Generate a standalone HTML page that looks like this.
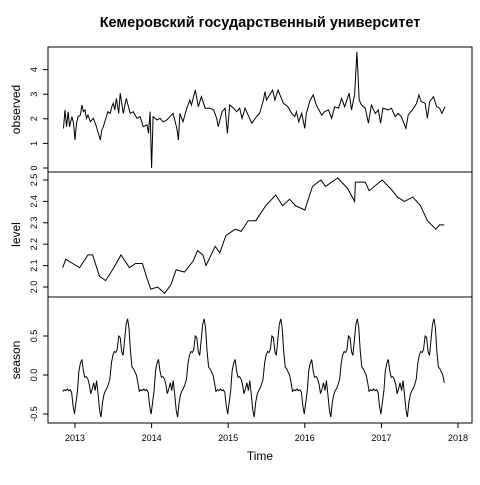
<!DOCTYPE html>
<html><head><meta charset="utf-8"><style>
body{margin:0;background:#fff}
svg text{font-family:"Liberation Sans",sans-serif;fill:#000}
</style></head><body>
<svg id="chart" width="480" height="480" viewBox="0 0 480 480" xmlns="http://www.w3.org/2000/svg">
<rect width="480" height="480" fill="#fff"/>
<text x="260" y="27" text-anchor="middle" font-size="14.5" font-weight="bold" style="font-family:'Liberation Sans','Noto Sans CJK SC',sans-serif">Кемеровский государственный университет</text>
<text x="260" y="460" text-anchor="middle" font-size="12">Time</text>
</svg>
<script>
const obsTimes=[2012.85,2012.87,2012.89,2012.91,2012.93,2012.96,2012.98,2013.00,2013.02,2013.04,2013.07,2013.09,2013.11,2013.13,2013.15,2013.17,2013.20,2013.24,2013.28,2013.33,2013.35,2013.37,2013.41,2013.43,2013.46,2013.48,2013.50,2013.52,2013.54,2013.57,2013.59,2013.61,2013.63,2013.67,2013.72,2013.76,2013.81,2013.85,2013.89,2013.94,2013.96,2013.98,2014.00,2014.02,2014.07,2014.11,2014.15,2014.20,2014.24,2014.28,2014.33,2014.35,2014.37,2014.41,2014.46,2014.50,2014.52,2014.57,2014.61,2014.65,2014.70,2014.76,2014.81,2014.85,2014.87,2014.92,2014.96,2014.99,2015.02,2015.07,2015.11,2015.15,2015.18,2015.22,2015.26,2015.31,2015.37,2015.41,2015.46,2015.48,2015.50,2015.54,2015.58,2015.61,2015.65,2015.72,2015.78,2015.83,2015.87,2015.89,2015.92,2015.96,2016.00,2016.02,2016.07,2016.11,2016.15,2016.22,2016.26,2016.31,2016.35,2016.39,2016.44,2016.48,2016.52,2016.58,2016.61,2016.65,2016.68,2016.71,2016.74,2016.79,2016.83,2016.87,2016.92,2016.96,2016.99,2017.02,2017.09,2017.13,2017.18,2017.22,2017.26,2017.32,2017.35,2017.42,2017.46,2017.49,2017.52,2017.57,2017.60,2017.63,2017.68,2017.72,2017.76,2017.79,2017.83];
const obsValues=[1.61,2.36,1.68,2.29,1.68,2.09,1.82,1.14,1.82,2.09,2.15,2.56,2.29,2.36,2.02,2.15,1.88,2.02,1.68,1.14,1.54,1.68,2.09,2.29,2.22,2.49,2.63,2.36,2.83,2.22,3.04,2.63,2.22,2.83,2.22,2.29,2.02,2.09,1.68,1.75,1.41,2.29,0.0,2.09,1.95,2.02,1.88,1.95,2.09,2.22,1.61,1.14,2.22,1.88,2.43,2.76,2.56,3.17,2.49,2.90,2.43,2.43,2.36,2.02,1.68,2.29,2.43,1.41,2.56,2.43,2.29,2.43,2.02,2.43,2.15,1.82,2.09,2.22,2.76,3.10,2.76,2.97,3.17,2.76,3.17,2.63,2.49,2.22,2.09,2.29,1.88,2.22,1.61,2.22,2.76,2.97,2.56,2.15,2.29,2.36,2.02,2.49,2.43,2.83,2.49,3.04,2.36,2.97,4.72,2.76,2.56,2.43,1.82,2.56,2.22,2.36,1.82,2.43,2.36,2.43,2.09,2.22,2.09,1.61,2.15,2.43,2.63,2.97,2.70,2.63,2.02,2.70,2.90,2.49,2.43,2.22,2.49];
const levelTimes=[2012.84,2012.88,2012.97,2013.06,2013.17,2013.23,2013.32,2013.40,2013.49,2013.60,2013.71,2013.79,2013.88,2013.94,2013.99,2014.08,2014.17,2014.25,2014.32,2014.43,2014.54,2014.60,2014.67,2014.71,2014.83,2014.89,2014.97,2015.09,2015.17,2015.26,2015.36,2015.49,2015.62,2015.71,2015.80,2015.88,2016.00,2016.10,2016.21,2016.27,2016.43,2016.56,2016.65,2016.66,2016.79,2016.84,2017.01,2017.12,2017.21,2017.30,2017.41,2017.51,2017.60,2017.71,2017.76,2017.82];
const levelValues=[2.09,2.13,2.11,2.09,2.15,2.15,2.05,2.03,2.08,2.15,2.09,2.11,2.11,2.04,1.99,2.0,1.97,2.01,2.08,2.07,2.12,2.17,2.15,2.10,2.19,2.16,2.24,2.27,2.26,2.31,2.31,2.38,2.43,2.38,2.41,2.38,2.36,2.47,2.50,2.47,2.51,2.46,2.40,2.49,2.49,2.45,2.50,2.46,2.42,2.40,2.42,2.38,2.31,2.27,2.29,2.29];
const seasonCycle=[-0.21,-0.19,-0.2,-0.18,-0.2,-0.19,-0.22,-0.4,-0.5,-0.35,-0.2,0.05,0.15,0.2,0.05,-0.03,-0.02,-0.05,-0.12,-0.24,-0.18,-0.1,-0.2,-0.07,-0.25,-0.45,-0.54,-0.35,-0.25,-0.2,-0.17,-0.12,-0.05,0.15,0.25,0.3,0.29,0.33,0.5,0.48,0.3,0.25,0.45,0.65,0.72,0.6,0.3,0.1,0.08,0.04,0.0,-0.1];
const seasonStart=2012.84, seasonWeeks=260;
const xTickLabels=["2013","2014","2015","2016","2017","2018"];
const obsTicks=["0","1","2","3","4"];
const levelTicks=["2.0","2.1","2.2","2.3","2.4","2.5"];
const seasonTicks=["-0.5","0.0","0.5"];

const svg=document.getElementById('chart');
const NS='http://www.w3.org/2000/svg';
const L=48,R=472;
const X=t=>75+(t-2013)*76.6;
function mk(tag,attrs){const e=document.createElementNS(NS,tag);for(const k in attrs)e.setAttribute(k,attrs[k]);svg.appendChild(e);return e;}
const panels=[
 {name:'observed',top:47,bot:172,y:v=>168-v*24.6,ticks:obsTicks},
 {name:'level',top:172,bot:297,y:v=>287-(v-2)*214,ticks:levelTicks},
 {name:'season',top:297,bot:423,y:v=>375-v*78,ticks:seasonTicks}
];
panels.forEach(p=>{
 const r=mk('rect',{x:L,y:p.top,width:R-L,height:p.bot-p.top,fill:'none',stroke:'#000','stroke-width':1});
 
 
 p.ticks.forEach(s=>{
  const yy=p.y(parseFloat(s));
  const tl=mk('line',{x1:L-5,x2:L,y1:yy,y2:yy,stroke:'#000'});
  
  
  const tx=mk('text',{x:0,y:0,'font-size':9,'text-anchor':'middle',transform:`translate(37,${yy}) rotate(-90)`});
  tx.textContent=s;
  
  
 });
 const lab=mk('text',{x:0,y:0,'font-size':12,'text-anchor':'middle',transform:`translate(20,${(p.top+p.bot)/2}) rotate(-90)`});
 lab.textContent=p.name;
 
 
});
function line(ts,vs,p,name){
 const d=ts.map((t,i)=>(i?'L':'M')+X(t).toFixed(1)+' '+p.y(vs[i]).toFixed(1)).join('');
 const e=mk('path',{d,fill:'none',stroke:'#000','stroke-width':1});
 
 
}
line(obsTimes,obsValues,panels[0],'observed-line');
line(levelTimes,levelValues,panels[1],'level-line');
const sT=[],sV=[];
for(let i=0;i<seasonWeeks;i++){sT.push(seasonStart+i/52);sV.push(seasonCycle[i%52]);}
line(sT,sV,panels[2],'season-line');
xTickLabels.forEach(s=>{
 const xx=X(parseFloat(s));
 const tl=mk('line',{x1:xx,x2:xx,y1:423,y2:428,stroke:'#000'});
 
 
 const tx=mk('text',{x:xx,y:441,'font-size':9,'text-anchor':'middle'});
 tx.textContent=s;
 
 
});
const ax=mk('line',{x1:X(2013),x2:X(2018),y1:423,y2:423,stroke:'#000'});


</script>
</body></html>
